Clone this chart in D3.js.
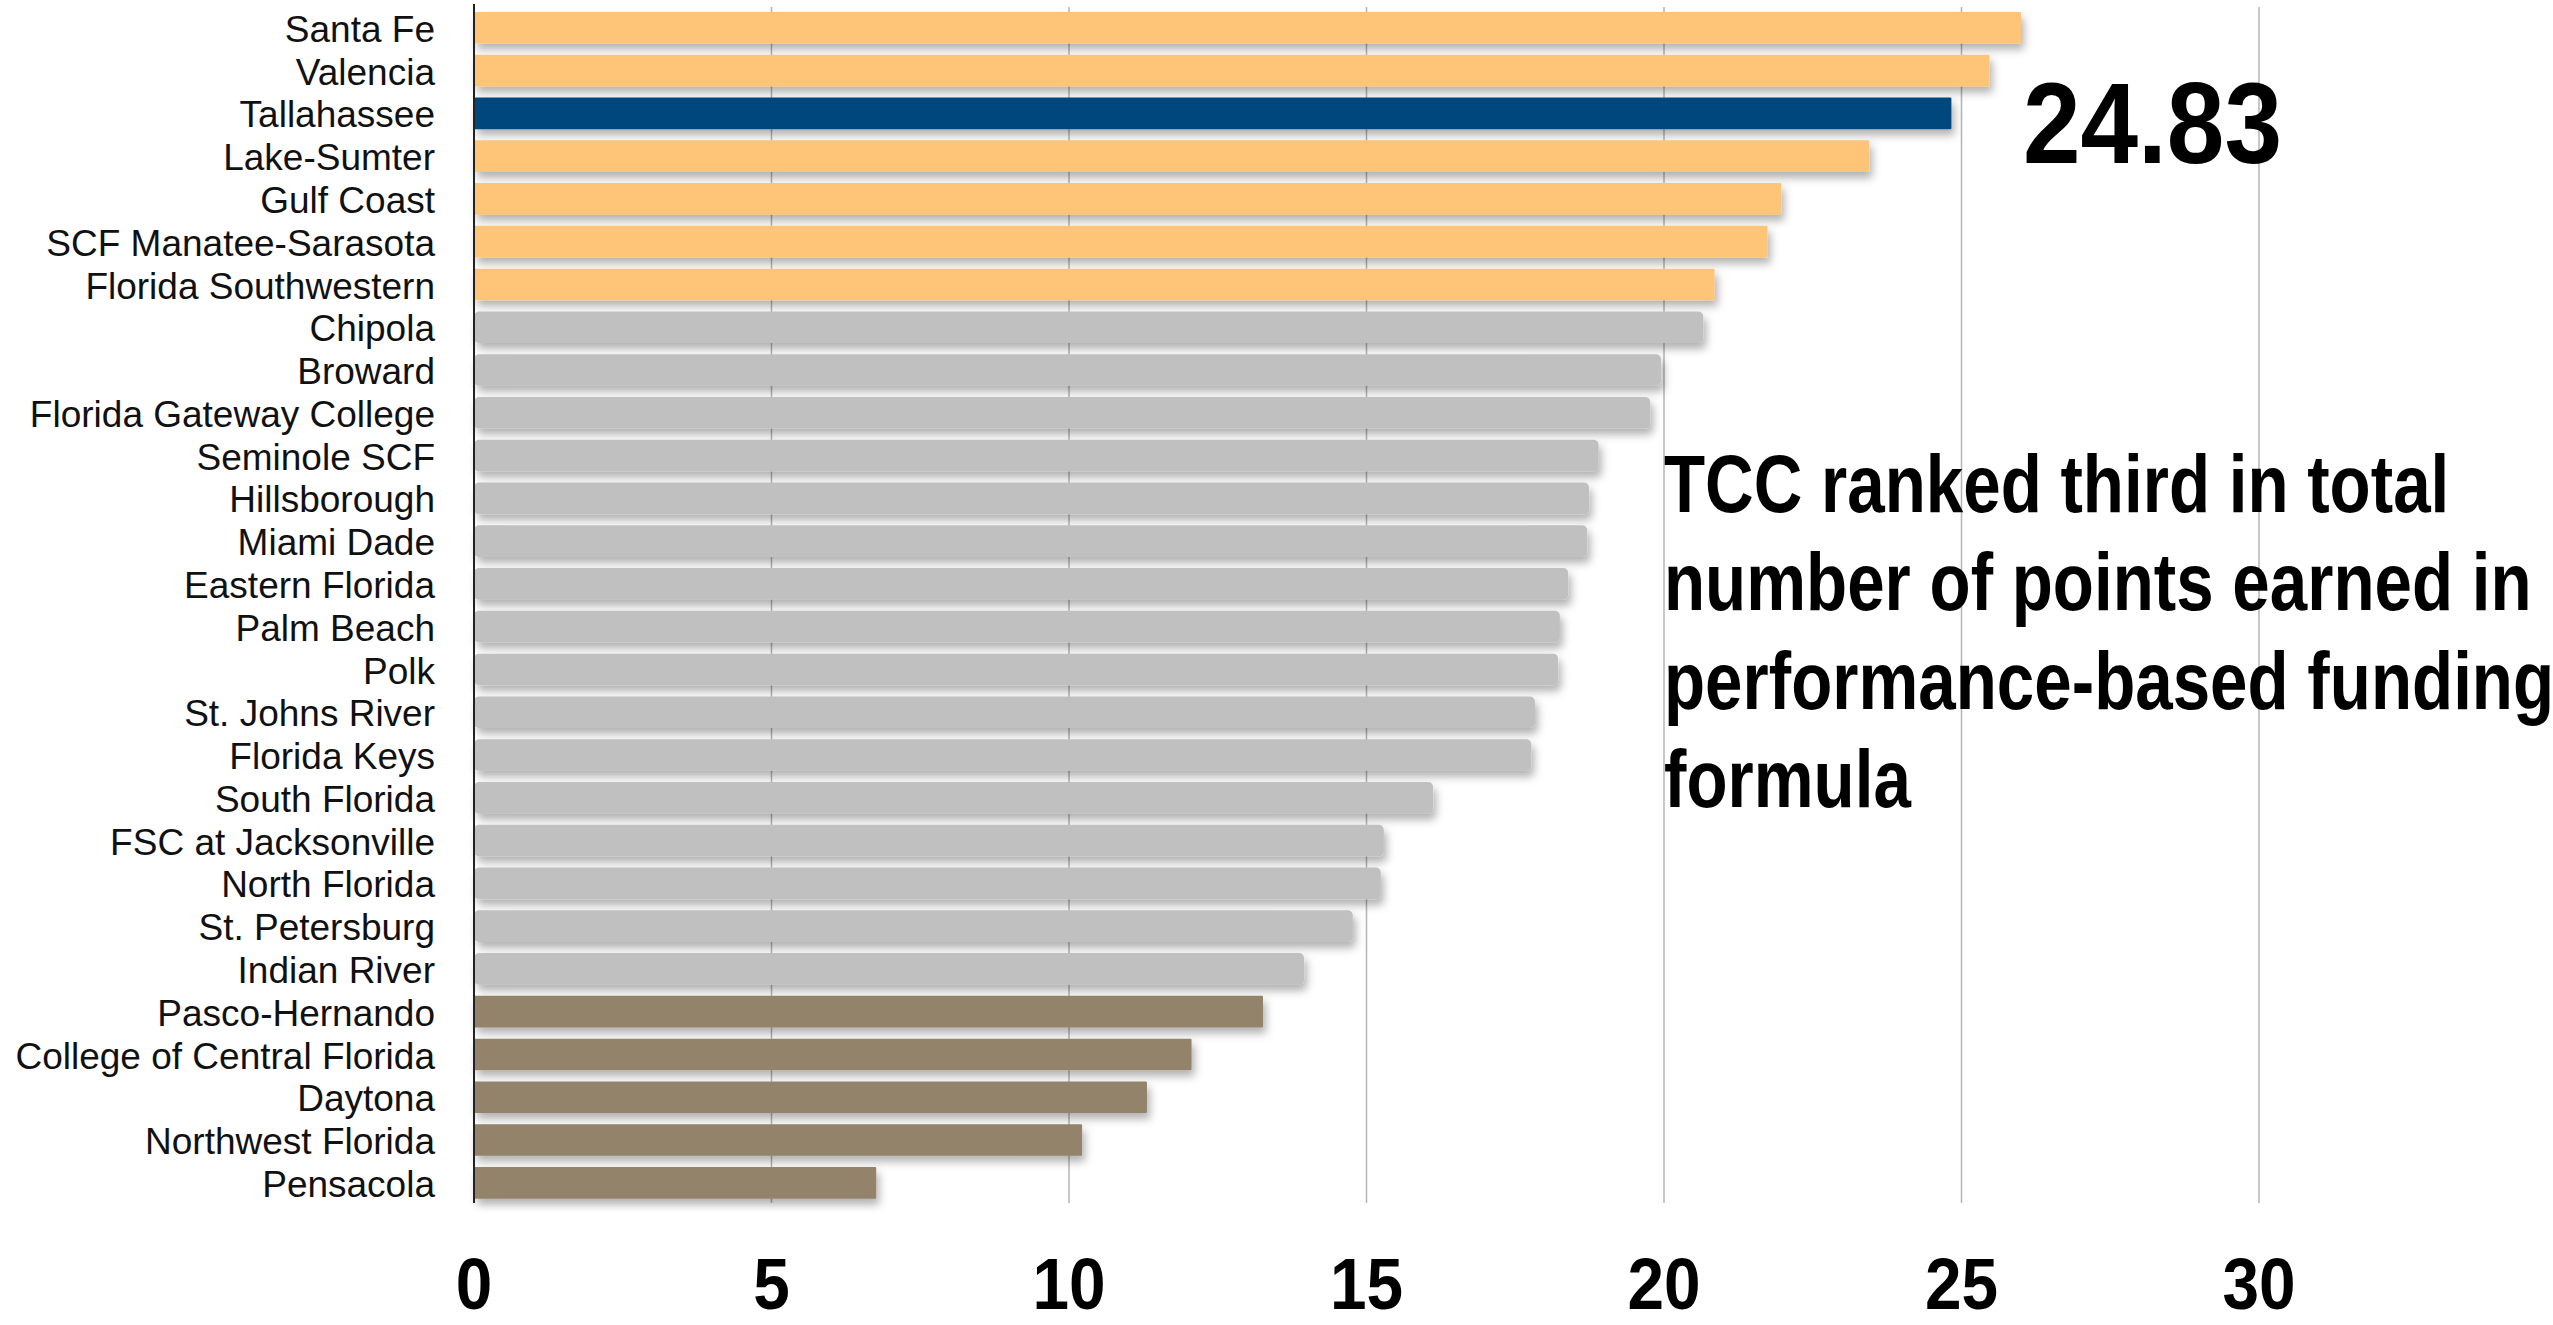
<!DOCTYPE html>
<html>
<head>
<meta charset="utf-8">
<script src="https://cdn.jsdelivr.net/npm/d3@7/dist/d3.min.js"></script>
<style>
  html, body { margin: 0; padding: 0; background: #ffffff; }
  svg { display: block; }
</style>
</head>
<body>
<svg id="chart" width="2553" height="1325"></svg>
<script>
// ---- data ----
const categories = [
  "Santa Fe", "Valencia", "Tallahassee", "Lake-Sumter", "Gulf Coast",
  "SCF Manatee-Sarasota", "Florida Southwestern", "Chipola", "Broward",
  "Florida Gateway College", "Seminole SCF", "Hillsborough", "Miami Dade",
  "Eastern Florida", "Palm Beach", "Polk", "St. Johns River", "Florida Keys",
  "South Florida", "FSC at Jacksonville", "North Florida", "St. Petersburg",
  "Indian River", "Pasco-Hernando", "College of Central Florida", "Daytona",
  "Northwest Florida", "Pensacola"
];
const values = [
  26.0, 25.47, 24.83, 23.45, 21.97,
  21.74, 20.85, 20.66, 19.95,
  19.77, 18.9, 18.74, 18.71,
  18.39, 18.25, 18.22, 17.83, 17.77,
  16.12, 15.29, 15.24, 14.77,
  13.95, 13.26, 12.06, 11.31,
  10.22, 6.76
];
const tiers = [
  "top", "top", "tcc", "top", "top",
  "top", "top", "mid", "mid",
  "mid", "mid", "mid", "mid",
  "mid", "mid", "mid", "mid", "mid",
  "mid", "mid", "mid", "mid",
  "mid", "low", "low", "low",
  "low", "low"
];
const xTicks = [0, 5, 10, 15, 20, 25, 30];
const highlightValue = "24.83";
const noteLines = [
  "TCC ranked third in total",
  "number of points earned in",
  "performance-based funding",
  "formula"
];
const tierColors = { top: "#fec478", tcc: "#00477e", mid: "#c0c0c0", low: "#92836a" };

// ---- layout ----
const svg = d3.select("#chart");
const plotLeft = 474, plotTop = 6.4, plotBottom = 1204.2;
const x = d3.scaleLinear().domain([0, 30]).range([plotLeft, 2259]);
const y = d3.scaleBand().domain(categories).range([plotTop, plotBottom])
  .paddingInner(0.26).paddingOuter(0.13);

const defs = svg.append("defs");
const f = defs.append("filter").attr("id", "shadow")
  .attr("x", "-5%").attr("y", "-40%").attr("width", "115%").attr("height", "200%");
f.append("feDropShadow").attr("dx", 3).attr("dy", 6).attr("stdDeviation", 4)
  .attr("flood-color", "#000").attr("flood-opacity", 0.3);

// gridlines
svg.append("g").selectAll("line").data(xTicks.filter(d => d > 0)).join("line")
  .attr("x1", d => x(d)).attr("x2", d => x(d))
  .attr("y1", 7).attr("y2", 1203)
  .attr("stroke", "#b4b4b4").attr("stroke-width", 1.5);

// bars
svg.append("g").selectAll("rect").data(categories).join("rect")
  .attr("x", x(0))
  .attr("y", d => y(d))
  .attr("height", y.bandwidth())
  .attr("width", (d, i) => x(values[i]) - x(0))
  .attr("rx", (d, i) => tiers[i] === "mid" ? 5 : 1)
  .attr("fill", (d, i) => tierColors[tiers[i]])
  .attr("filter", "url(#shadow)");

// y axis line
svg.append("line")
  .attr("x1", x(0)).attr("x2", x(0)).attr("y1", 4).attr("y2", 1203)
  .attr("stroke", "#222").attr("stroke-width", 2);

// category labels
svg.append("g").selectAll("text").data(categories).join("text")
  .attr("x", 435)
  .attr("y", d => y(d) + y.bandwidth() / 2)
  .attr("dy", "0.38em")
  .attr("text-anchor", "end")
  .attr("font-family", "'Liberation Sans', Arial, sans-serif")
  .attr("font-size", 37)
  .attr("fill", "#111")
  .text(d => d);

// x tick labels (condensed bold)
svg.append("g").selectAll("text").data(xTicks).join("text")
  .attr("transform", d => `translate(${x(d)},1309) scale(0.9,1)`)
  .attr("text-anchor", "middle")
  .attr("font-family", "'Liberation Sans', Arial, sans-serif")
  .attr("font-weight", "bold")
  .attr("font-size", 73)
  .attr("fill", "#000")
  .text(d => d);

// highlight value
svg.append("text")
  .attr("transform", "translate(2023,163) scale(0.9,1)")
  .attr("font-family", "'Liberation Sans', Arial, sans-serif")
  .attr("font-weight", "bold")
  .attr("font-size", 115)
  .attr("fill", "#000")
  .text(highlightValue);

// note
svg.append("g").selectAll("text").data(noteLines).join("text")
  .attr("transform", (d, i) => `translate(1664,${512 + i * 98.3}) scale(0.826,1)`)
  .attr("font-family", "'Liberation Sans', Arial, sans-serif")
  .attr("font-weight", "bold")
  .attr("font-size", 81.5)
  .attr("fill", "#000")
  .text(d => d);
</script>
</body>
</html>
